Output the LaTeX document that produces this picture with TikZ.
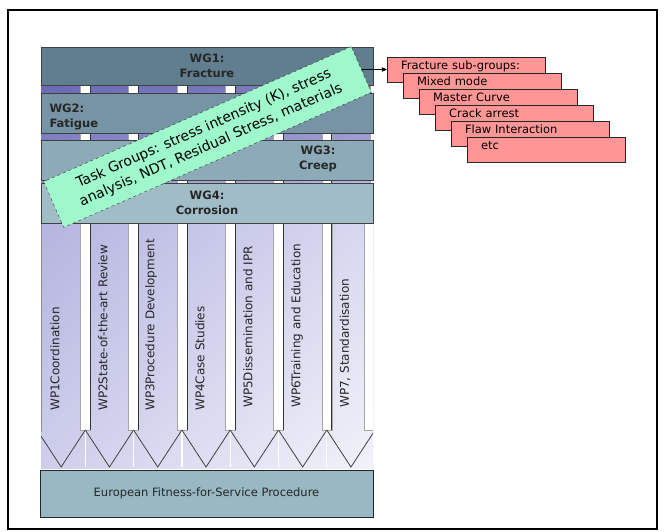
\documentclass[tikz,border=0pt]{standalone}
\usepackage{fontspec}
\setmainfont{DejaVu Sans}
\usetikzlibrary{positioning,arrows,calc,shadings}

\definecolor{wgone}{RGB}{96,126,142}
\definecolor{wgtwo}{RGB}{118,148,163}
\definecolor{wgthree}{RGB}{140,170,183}
\definecolor{wgfour}{RGB}{160,189,199}
\definecolor{eurofill}{RGB}{152,184,195}
\definecolor{notegreen}{RGB}{158,248,204}
\definecolor{subpink}{RGB}{255,150,150}
\definecolor{bandtl}{RGB}{90,90,172}
\definecolor{bandtr}{RGB}{108,108,184}
\definecolor{bandbl}{RGB}{160,160,214}
\definecolor{bandbr}{RGB}{205,205,235}
\definecolor{wptl}{RGB}{180,180,224}
\definecolor{wptr}{RGB}{216,216,240}
\definecolor{wpbl}{RGB}{206,206,236}
\definecolor{wpbr}{RGB}{242,242,250}

\tikzset{
  wgbox/.style   = {draw=black!75, minimum width=332pt, inner sep=0pt,
                    align=center, text=black!85,
                    font=\bfseries\fontsize{11.5}{15}\selectfont},
  wglabel/.style = {align=center, text=black!85,
                    font=\bfseries\fontsize{11.5}{15}\selectfont},
  wptext/.style  = {rotate=90, anchor=west, inner sep=0pt, text=black!85,
                    font=\fontsize{12}{14}\selectfont},
  pipe/.style    = {fill=white, draw=black!35},
  note/.style    = {draw=black!80, dashed, fill=notegreen, align=center,
                    minimum width=336pt, minimum height=50pt,
                    font=\fontsize{14}{18}\selectfont},
  subbox/.style  = {draw=black!85, line width=0.8pt, fill=subpink,
                    text width=130pt, inner xsep=14pt, inner ysep=2pt,
                    text height=10pt, text depth=11pt, align=left,
                    font=\fontsize{11.5}{13}\selectfont}
}

\begin{document}
\begin{tikzpicture}[x=1pt,y=-1pt]
\useasboundingbox (0,0) rectangle (664,531);
\draw[line width=1.2pt] (8,10) rectangle (657,529);

% work package columns running behind the working groups
\begin{scope}
\clip (41,40) rectangle (373,470);
\shade[upper left=bandtl, upper right=bandtr,
       lower left=bandbl, lower right=bandbr] (41,47) rectangle (373,223);
\shade[upper left=wptl, upper right=wptr,
       lower left=wpbl, lower right=wpbr] (41,223) rectangle (373,468);
\foreach \k in {1,...,7} {
  \pgfmathsetmacro{\b}{37+48.3*\k}
  \draw[white, line width=1.2pt] (\b,430) -- (\b,467);
  \filldraw[pipe] (\b-5,47) rectangle (\b+5,430);
  \draw[black!80, line width=0.8pt] (\b+5,47) -- (\b+5,430);
}
\foreach \k in {0,...,6} {
  \pgfmathsetmacro{\b}{37+48.3*\k}
  \draw[black!75, line width=0.8pt] (\b,430) -- (\b+24.15,467) -- (\b+48.3,430);
}
\filldraw[pipe] (364,223) rectangle (373,430);
\draw[black!45] (41,223) -- (41,432);
\end{scope}

\node[wptext] (wp1) at (55,411) {WP1Coordination};
\node[wptext] (wp2) at (103,411) {WP2State-of-the-art Review};
\node[wptext] (wp3) at (151,411) {WP3Procedure Development};
\node[wptext] (wp4) at (200,411) {WP4Case Studies};
\node[wptext] (wp5) at (248,408) {WP5Dissemination and IPR};
\node[wptext] (wp6) at (297,408) {WP6Training and Education};
\node[wptext] (wp7) at (345,408) {WP7, Standardisation};

% working groups
\node[wgbox, fill=wgone, minimum height=38pt] (wg1) at (207,66) {WG1:\\Fracture};
\node[wgbox, fill=wgtwo, minimum height=40pt] (wg2) at (207,113) {};
\node[wgbox, fill=wgthree, minimum height=40pt] (wg3) at (207,160) {};
\node[wgbox, fill=wgfour, minimum height=40pt] (wg4) at (207,203) {WG4:\\Corrosion};
\node[wglabel, align=left, anchor=west] (wg2txt) at (46,117) {WG2:\\Fatigue};
\node[wglabel] (wg3txt) at (318,159) {WG3:\\Creep};

% fracture sub-groups
\node[subbox] (sub1) at (466,69.5) {Fracture sub-groups:};
\node[subbox] (sub2) at ([xshift=16pt,yshift=-16pt]sub1.center) {Mixed mode};
\node[subbox] (sub3) at ([xshift=16pt,yshift=-16pt]sub2.center) {Master Curve};
\node[subbox] (sub4) at ([xshift=16pt,yshift=-16pt]sub3.center) {Crack arrest};
\node[subbox] (sub5) at ([xshift=16pt,yshift=-16pt]sub4.center) {Flaw Interaction};
\node[subbox] (sub6) at ([xshift=16pt,yshift=-16pt]sub5.center) {etc};

\draw[->,>=stealth',line width=0.8pt] ([xshift=-14pt]wg1.east |- sub1.west) -- (sub1.west);

\node[note, rotate=23.7] (tasks) at (207.5,137)
  {Task Groups: stress intensity (K), stress\\analysis, NDT, Residual Stress, materials};

\node[wgbox, fill=eurofill, draw=black!85, line width=1pt, minimum width=333pt,
      minimum height=47pt, font=\fontsize{11.5}{14}\selectfont]
  (efs) at (206.5,493.5) {European Fitness-for-Service Procedure};
\end{tikzpicture}
\end{document}
